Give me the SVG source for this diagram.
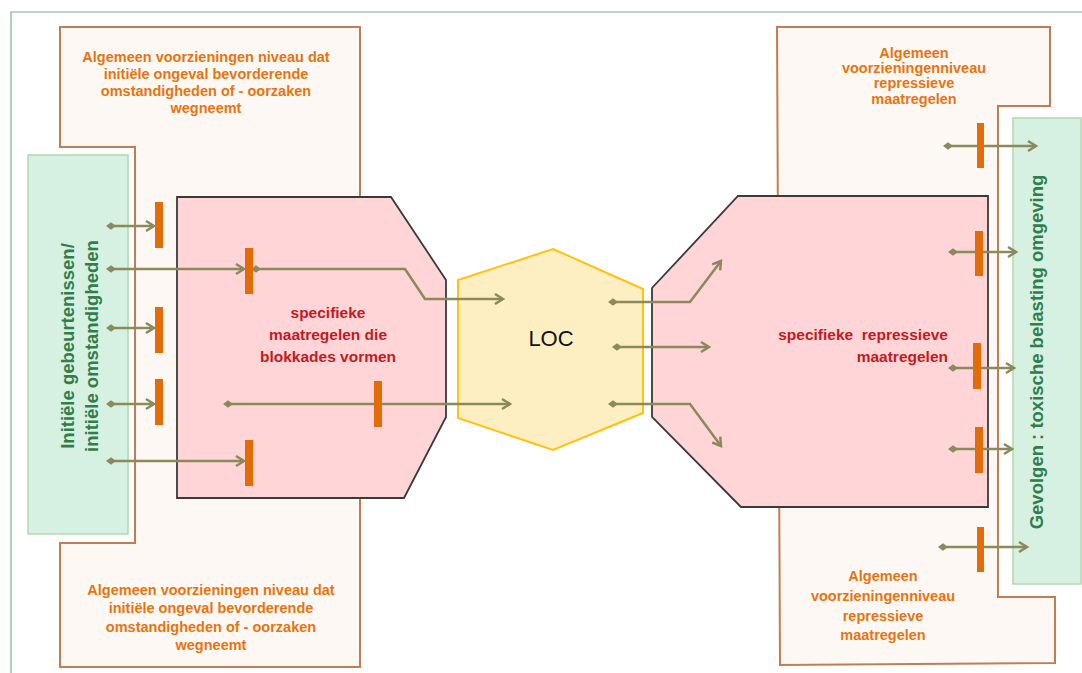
<svg xmlns="http://www.w3.org/2000/svg" width="1082" height="673" viewBox="0 0 1082 673">
<style>
.frame{fill:none;stroke:#7AAE90;stroke-width:1.2}
.cream{fill:#FDF8F4;stroke:#C07E52;stroke-width:2}
.green{fill:#D6F1E2;stroke:#B2D9A8;stroke-width:1.5}
.pink{fill:#FFD5D7;stroke:#3A3A3A;stroke-width:1.8}
.hex{fill:#FEEFC2;stroke:#FFC20E;stroke-width:2}
.bar{fill:#E36C09}
.conn{fill:none;stroke:#8B8A5A;stroke-width:2.5;marker-start:url(#dia);marker-end:url(#arr)}
.t-or{font-family:"Liberation Sans",Arial,sans-serif;font-weight:bold;font-size:14.5px;fill:#E8740F;text-anchor:middle}
.t-red{font-family:"Liberation Sans",Arial,sans-serif;font-weight:bold;font-size:15.5px;fill:#C41A22;white-space:pre}
.t-gr{font-family:"Liberation Sans",Arial,sans-serif;font-weight:bold;font-size:18.5px;fill:#2F7E4C;text-anchor:middle}
.t-loc{font-family:"Liberation Sans",Arial,sans-serif;font-size:22px;fill:#111;text-anchor:middle}
</style>
<defs>
<marker id="arr" markerUnits="userSpaceOnUse" markerWidth="14" markerHeight="14" refX="0" refY="0" viewBox="-11 -7 13 14" orient="auto">
<path d="M-8,-5 L0,0 L-8,5" fill="none" stroke="#8B8A5A" stroke-width="2.5"/>
</marker>
<marker id="dia" markerUnits="userSpaceOnUse" markerWidth="12" markerHeight="10" refX="0" refY="0" viewBox="-6 -5 12 10" orient="auto">
<path d="M-5,0 L0,-3.8 L5,0 L0,3.8 Z" fill="#8B8A5A"/>
</marker>
</defs>

<path class="frame" d="M11,673 L11,12 L1082,12"/>

<g id="left-general">
<polygon class="cream" points="60,27 360,27 360,667 60,667 60,543 135,543 135,147 60,147"/>
<text class="t-or" x="206" y="62">Algemeen voorzieningen niveau dat</text>
<text class="t-or" x="206" y="79">initiële ongeval bevorderende</text>
<text class="t-or" x="206" y="96">omstandigheden of - oorzaken</text>
<text class="t-or" x="206" y="113">wegneemt</text>
<text class="t-or" x="211" y="595">Algemeen voorzieningen niveau dat</text>
<text class="t-or" x="211" y="613">initiële ongeval bevorderende</text>
<text class="t-or" x="211" y="632">omstandigheden of - oorzaken</text>
<text class="t-or" x="211" y="650">wegneemt</text>
</g>

<g id="right-general">
<polygon class="cream" points="777,27 1050,27 1050,106 998,106 998,597 1055,597 1055,663 780,665"/>
<text class="t-or" x="914" y="58">Algemeen</text>
<text class="t-or" x="914" y="73">voorzieningenniveau</text>
<text class="t-or" x="914" y="88">repressieve</text>
<text class="t-or" x="914" y="104">maatregelen</text>
<text class="t-or" x="883" y="581">Algemeen</text>
<text class="t-or" x="883" y="601">voorzieningenniveau</text>
<text class="t-or" x="883" y="621">repressieve</text>
<text class="t-or" x="883" y="640">maatregelen</text>
</g>

<g id="initial-events">
<rect class="green" x="28" y="155" width="100" height="379"/>
<g transform="translate(74,346) rotate(-90)">
<text class="t-gr" x="0" y="0">Initiële gebeurtenissen/</text>
<text class="t-gr" x="0" y="24">initiële omstandigheden</text>
</g>
</g>

<g id="consequences">
<rect class="green" x="1013" y="118" width="68" height="466"/>
<text class="t-gr" transform="translate(1043,352) rotate(-90)" x="0" y="0">Gevolgen : toxische belasting omgeving</text>
</g>

<g id="preventive">
<polygon class="pink" points="177,197 391,197 446,280 446,417 404,498 177,498"/>
<text class="t-red" text-anchor="middle" x="328" y="318">specifieke</text>
<text class="t-red" text-anchor="middle" x="328" y="340">maatregelen die</text>
<text class="t-red" text-anchor="middle" x="328" y="362">blokkades vormen</text>
</g>

<g id="repressive">
<polygon class="pink" points="738,196 988,196 988,507 741,507 652,417 652,288"/>
<text class="t-red" text-anchor="end" x="948" y="340" xml:space="preserve">specifieke  repressieve</text>
<text class="t-red" text-anchor="end" x="948" y="362">maatregelen</text>
</g>

<g id="loc">
<polygon class="hex" points="553,249 643,289 643,413 553,450 458,418 458,280"/>
<text class="t-loc" x="551" y="346">LOC</text>
</g>

<g id="connectors">
<path class="conn" d="M111,226 H154"/>
<path class="conn" d="M111,269 H244"/>
<path class="conn" d="M111,328 H154"/>
<path class="conn" d="M111,404 H154"/>
<path class="conn" d="M111,461 H244"/>
<path class="conn" d="M256,269 H405 L425,299 H503"/>
<path class="conn" d="M228,404 H510"/>
<path class="conn" d="M613,302 H690 L721,261"/>
<path class="conn" d="M617,347 H709"/>
<path class="conn" d="M613,404 H690 L721,446"/>
<path class="conn" d="M948,146 H1036"/>
<path class="conn" d="M953,252 H1016"/>
<path class="conn" d="M953,368 H1014"/>
<path class="conn" d="M953,449 H1012"/>
<path class="conn" d="M943,547 H1027"/>
</g>

<g id="barriers">
<rect class="bar" x="155" y="202" width="8" height="46"/>
<rect class="bar" x="245" y="248" width="8" height="46"/>
<rect class="bar" x="155" y="307" width="8" height="46"/>
<rect class="bar" x="155" y="379" width="8" height="46"/>
<rect class="bar" x="245" y="440" width="8" height="46"/>
<rect class="bar" x="374" y="381" width="8" height="46"/>
<rect class="bar" x="977" y="123" width="7" height="45"/>
<rect class="bar" x="975" y="231" width="8" height="45"/>
<rect class="bar" x="973" y="343" width="8" height="46"/>
<rect class="bar" x="975" y="427" width="8" height="46"/>
<rect class="bar" x="977" y="527" width="7" height="45"/>
</g>
</svg>
